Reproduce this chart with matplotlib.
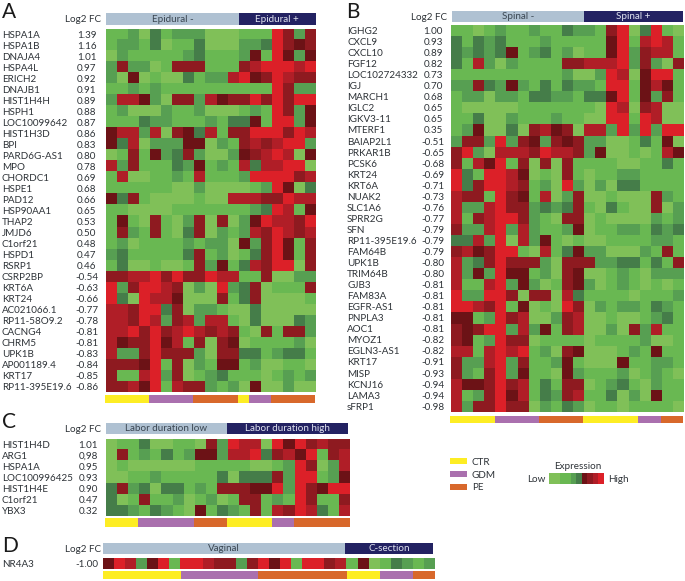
import numpy as np
import matplotlib
matplotlib.use("Agg")
import matplotlib.pyplot as plt
from matplotlib.colors import ListedColormap, BoundaryNorm

plt.rcParams['font.family'] = ['Lato', 'DejaVu Sans']

W, H = 685, 581

# Expression levels: 1-4 light to dark green (low), 5-8 dark to bright red (high)
level_colors = ['#80c058', '#69b852', '#579f52', '#457d49',
                '#6c1216', '#8e1a20', '#b01e27', '#dc2028']
group_colors = {'CTR': '#fded24', 'GDM': '#aa70ae', 'PE': '#d8682b'}
head_light = '#afc1d2'
head_dark = '#232262'
text_color = '#2e3338'

a_genes = ['HSPA1A', 'HSPA1B', 'DNAJA4', 'HSPA4L', 'ERICH2', 'DNAJB1', 'HIST1H4H', 'HSPH1',
           'LOC10099642', 'HIST1H3D', 'BPI', 'PARD6G-AS1', 'MPO', 'CHORDC1', 'HSPE1', 'PAD12',
           'HSP90AA1', 'THAP2', 'JMJD6', 'C1orf21', 'HSPD1', 'RSRP1', 'CSRP2BP', 'KRT6A', 'KRT24',
           'AC021066.1', 'RP11-58O9.2', 'CACNG4', 'CHRM5', 'UPK1B', 'AP001189.4', 'KRT17',
           'RP11-395E19.6']
a_fc = ['1.39', '1.16', '1.01', '0.97', '0.92', '0.91', '0.89', '0.88', '0.87', '0.86', '0.83',
        '0.80', '0.78', '0.69', '0.68', '0.66', '0.65', '0.53', '0.50', '0.48', '0.47', '0.46',
        '-0.54', '-0.63', '-0.66', '-0.77', '-0.78', '-0.81', '-0.81', '-0.83', '-0.84', '-0.85',
        '-0.86']
a_levels = [
    '2 2 3 1 4 2 3 3 3 1 1 1 2 2 2 8 6 3 6',
    '2 3 3 2 4 1 2 2 4 1 1 1 3 3 4 8 6 5 6',
    '1 3 2 2 2 2 2 3 4 2 2 2 3 5 2 8 5 3 5',
    '3 6 3 3 1 2 6 6 6 2 2 2 6 7 8 8 8 7 8',
    '3 1 5 1 2 1 1 4 2 3 3 7 8 5 6 8 7 6 6',
    '2 2 3 2 3 2 2 2 2 2 2 2 2 2 2 8 6 3 3',
    '3 7 7 5 3 1 6 6 3 7 5 6 6 8 6 8 6 8 8',
    '2 3 1 1 1 3 2 2 3 1 1 1 2 3 2 8 6 3 5',
    '2 2 2 4 3 3 2 2 2 3 2 4 4 5 2 8 8 3 5',
    '5 7 7 3 7 1 6 5 4 7 2 6 6 8 8 8 6 8 7',
    '5 4 7 1 3 3 3 5 5 1 3 2 6 7 6 7 8 8 3',
    '1 2 6 2 5 3 4 6 3 1 1 3 5 6 7 8 7 1 5',
    '7 3 6 2 2 2 4 3 5 2 3 2 7 4 7 7 8 8 1',
    '2 7 1 1 2 2 3 2 7 2 2 2 3 8 8 8 8 6 7',
    '2 2 2 2 2 2 1 1 3 1 1 1 1 2 3 8 5 1 4',
    '5 4 6 2 1 1 1 1 2 1 1 7 7 7 6 6 8 7 7',
    '2 2 1 1 1 1 2 2 2 2 2 2 2 3 4 8 7 2 5',
    '2 5 2 1 6 2 1 3 6 1 6 1 3 5 8 7 7 6 8',
    '2 6 3 2 6 2 1 4 6 1 3 2 3 7 6 8 7 6 7',
    '2 3 1 2 2 2 2 3 2 3 3 1 5 3 6 8 5 2 6',
    '3 4 2 2 2 2 2 4 6 2 3 1 2 4 6 8 5 2 6',
    '2 4 1 1 2 1 1 2 6 3 5 2 4 7 6 8 8 1 6',
    '6 6 7 7 8 6 8 6 6 8 7 7 2 2 6 1 1 3 3',
    '8 3 6 8 8 7 6 1 3 1 8 3 4 6 1 2 2 2 6',
    '8 4 1 8 7 7 5 1 1 1 6 2 4 6 1 1 1 1 2',
    '7 7 6 8 8 4 6 1 3 3 2 1 1 4 1 1 1 1 1',
    '7 7 6 8 7 3 6 7 3 7 7 2 1 4 1 1 1 4 3',
    '7 7 8 6 8 6 7 8 7 6 7 6 2 1 6 2 6 6 3',
    '7 5 6 6 8 5 7 2 6 1 6 5 1 2 2 2 2 3 1',
    '7 3 3 6 8 6 6 6 3 1 6 6 4 4 2 3 4 4 2',
    '6 6 6 5 8 2 6 1 3 2 5 5 2 3 1 1 2 2 1',
    '6 2 2 7 8 3 6 1 2 3 4 2 2 2 1 2 3 2 3',
    '6 6 7 5 8 2 7 6 6 3 2 3 1 5 1 1 3 1 1',
]
a_groups = [('CTR', 4), ('GDM', 4), ('PE', 4), ('CTR', 1), ('GDM', 2), ('PE', 4)]
a_head = [('Epidural -', 12), ('Epidural +', 7)]

b_genes = ['IGHG2', 'CXCL9', 'CXCL10', 'FGF12', 'LOC102724332', 'IGJ', 'MARCH1', 'IGLC2',
           'IGKV3-11', 'MTERF1', 'BAIAP2L1', 'PRKAR1B', 'PCSK6', 'KRT24', 'KRT6A', 'NUAK2',
           'SLC1A6', 'SPRR2G', 'SFN', 'RP11-395E19.6', 'FAM64B', 'UPK1B', 'TRIM64B', 'GJB3',
           'FAM83A', 'EGFR-AS1', 'PNPLA3', 'AOC1', 'MYOZ1', 'EGLN3-AS1', 'KRT17', 'MISP', 'KCNJ16',
           'LAMA3', 'sFRP1']
b_fc = ['1.00', '0.93', '0.89', '0.82', '0.73', '0.70', '0.68', '0.65', '0.65', '0.35', '-0.51',
        '-0.65', '-0.68', '-0.69', '-0.71', '-0.73', '-0.76', '-0.77', '-0.79', '-0.79', '-0.79',
        '-0.80', '-0.80', '-0.81', '-0.81', '-0.81', '-0.81', '-0.81', '-0.82', '-0.82', '-0.91',
        '-0.93', '-0.94', '-0.94', '-0.98']
b_levels = [
    '2 2 1 2 3 2 2 3 2 2 4 3 3 2 6 8 1 4 8 2 1',
    '4 2 4 3 4 2 2 2 3 2 2 2 2 2 5 8 2 7 8 7 2',
    '4 3 4 3 4 5 2 3 4 2 3 1 2 2 5 8 3 6 7 7 2',
    '4 2 7 3 1 3 2 2 2 2 6 6 7 7 7 8 3 6 3 1 6',
    '2 2 2 2 2 2 2 2 2 2 3 1 1 3 8 7 1 5 8 8 2',
    '3 3 6 4 3 5 3 2 4 2 4 3 3 2 8 8 2 5 7 5 2',
    '2 3 3 1 3 3 2 4 4 3 3 2 4 4 5 8 2 5 3 6 2',
    '2 1 1 1 1 1 2 2 2 2 2 2 2 1 8 7 1 6 7 1 1',
    '2 2 4 1 1 3 2 2 2 3 2 2 1 1 8 8 2 8 7 1 1',
    '2 3 5 1 1 4 1 6 7 5 6 1 7 7 3 8 3 8 3 8 8',
    '3 6 6 3 8 3 6 5 3 6 5 6 3 3 1 1 2 4 2 5 1',
    '6 8 3 1 7 7 7 6 8 7 7 6 3 5 1 1 2 1 2 7 5',
    '6 2 7 5 8 2 6 1 6 1 6 2 2 2 2 1 1 2 2 4 2',
    '8 4 2 8 8 7 5 1 2 1 6 2 1 2 2 3 3 2 2 2 2',
    '8 4 6 8 8 7 6 2 3 1 8 3 1 3 1 4 4 2 2 2 2',
    '7 6 6 2 8 6 5 2 7 1 3 6 1 1 2 1 1 1 6 3 2',
    '7 3 3 7 8 6 6 3 4 3 4 6 2 1 4 2 1 1 6 1 3',
    '7 2 6 7 8 8 6 3 2 1 6 6 1 2 1 1 1 1 3 2 3',
    '6 3 3 7 8 3 7 3 2 2 3 5 1 2 2 3 3 2 4 3 4',
    '4 4 7 3 8 1 7 3 5 2 1 2 1 1 2 2 2 2 3 3 2',
    '6 7 5 6 8 8 2 1 7 2 4 5 3 3 1 1 1 3 2 6 2',
    '7 3 4 6 8 6 6 6 3 1 6 6 6 3 3 4 4 2 4 2 6',
    '7 3 5 3 8 5 5 2 3 1 6 5 1 1 2 3 2 1 3 3 3',
    '7 2 2 7 8 3 5 3 1 2 6 5 3 1 2 3 2 1 2 1 2',
    '8 3 3 8 8 6 1 6 6 1 7 4 2 2 2 2 1 2 2 2 3',
    '8 8 7 6 8 2 5 1 2 1 8 6 1 3 2 3 3 2 4 3 2',
    '5 5 2 3 8 6 7 1 1 3 6 7 1 1 2 1 1 2 3 4 2',
    '6 5 6 8 8 3 7 3 5 2 6 7 1 1 3 1 6 3 7 2 2',
    '6 5 2 3 8 6 6 1 2 2 2 2 1 2 2 2 2 3 1 1 2',
    '7 7 2 7 8 7 8 2 3 1 6 5 1 1 1 2 3 2 5 2 2',
    '6 3 3 7 8 3 6 2 2 3 5 2 1 1 1 5 2 2 3 3 2',
    '6 3 2 6 8 3 5 2 2 1 5 3 2 2 2 3 1 2 3 2 1',
    '7 5 5 6 8 6 7 2 4 2 6 6 1 2 3 4 2 1 3 2 2',
    '7 2 3 6 8 5 7 2 4 3 6 7 2 2 4 1 3 1 5 2 2',
    '7 3 6 6 8 6 6 1 3 2 4 3 1 2 2 1 2 2 2 2 1',
]
b_groups = [('CTR', 4), ('GDM', 4), ('PE', 4), ('CTR', 5), ('GDM', 2), ('PE', 2)]
b_head = [('Spinal -', 12), ('Spinal +', 9)]

c_genes = ['HIST1H4D', 'ARG1', 'HSPA1A', 'LOC100996425', 'HIST1H4E', 'C1orf21', 'YBX3']
c_fc = ['1.01', '0,98', '0.95', '0.93', '0.90', '0.47', '0.32']
c_levels = [
    '1 2 2 4 1 1 2 2 1 6 3 8 7 7 1 8 5 8 6 7 6 6',
    '1 6 2 3 2 4 2 3 5 5 3 7 7 8 4 6 7 5 8 2 6 7',
    '1 2 1 1 1 1 1 1 2 2 2 2 2 1 1 2 3 8 6 1 3 7',
    '1 1 2 2 3 2 2 2 2 2 4 1 4 4 4 6 3 8 8 2 3 5',
    '4 6 3 4 1 4 4 2 3 2 6 6 6 5 5 8 3 8 6 5 8 8',
    '4 1 2 6 2 2 3 1 2 3 1 2 6 6 2 3 2 8 6 2 2 6',
    '4 4 3 2 4 3 2 1 5 2 4 3 2 6 2 7 6 8 7 4 2 7',
]
c_groups = [('CTR', 3), ('GDM', 5), ('PE', 3), ('CTR', 4), ('GDM', 2), ('PE', 5)]
c_head = [('Labor duration low', 11), ('Labor duration high', 11)]

d_genes = ['NR4A3']
d_fc = ['-1.00']
d_levels = ['5 8 7 3 5 8 2 8 8 7 6 6 3 6 8 5 8 2 8 8 6 7 2 5 1 2 4 3 2 3']
d_groups = [('CTR', 7), ('GDM', 7), ('PE', 8), ('CTR', 3), ('GDM', 3), ('PE', 2)]
d_head = [('Vaginal', 22), ('C-section', 8)]

legend_names = ['CTR', 'GDM', 'PE']
legend_scale = [1, 1, 2, 2, 3, 4, 5, 6, 7, 8]

cmap = ListedColormap(level_colors)
norm = BoundaryNorm(np.arange(0.5, 9.5), cmap.N)

FS = 7.1


def px_axes(fig, x0, y0, x1, y1):
    # Axes from pixel box, y measured from the top of the image
    ax = fig.add_axes([x0 / W, 1 - y1 / H, (x1 - x0) / W, (y1 - y0) / H])
    ax.axis('off')
    return ax


def to_matrix(levels):
    return np.array([[int(v) for v in row.split()] for row in levels])


def draw_bar(fig, box, parts, colors, labels=None):
    # Stacked horizontal strip, parts given in number of columns
    ax = px_axes(fig, *box)
    total = sum(parts)
    left = 0
    for i, p in enumerate(parts):
        ax.barh(0, p, left=left, height=1, color=colors[i], linewidth=0)
        if labels:
            tc = '#3a4652' if i == 0 else '#dfe3f0'
            ax.text(left + p / 2, -0.02, labels[i], ha='center', va='center', color=tc, fontsize=FS)
        left += p
    ax.set_xlim(0, total)
    ax.set_ylim(-0.5, 0.5)


def panel(fig, letter, letter_xy, genes, fc, levels, groups, head, heat_box, head_box, bar_box, fc_x, fc_head_x):
    m = to_matrix(levels)
    ax = px_axes(fig, *heat_box)
    ax.imshow(m, cmap=cmap, norm=norm, aspect='auto', interpolation='nearest')

    x0, y0, x1, y1 = heat_box
    rh = (y1 - y0) / len(genes)
    for i in range(len(genes)):
        yy = y0 + rh * (i + 0.5)
        fig.text(label_x[letter] / W, 1 - yy / H, genes[i], ha='left', va='center_baseline',
                 fontsize=FS, color=text_color)
        fig.text(fc_x / W, 1 - yy / H, fc[i], ha='center', va='center_baseline',
                 fontsize=FS, color=text_color)

    head_y = (head_box[1] + head_box[3]) / 2
    fig.text(fc_head_x / W, 1 - head_y / H, 'Log2 FC', ha='center', va='center_baseline',
             fontsize=FS, color=text_color)
    fig.text(letter_xy[0] / W, 1 - letter_xy[1] / H, letter, ha='left', va='baseline',
             fontsize=15, color='#1a1a1a')

    draw_bar(fig, head_box, [h[1] for h in head], [head_light, head_dark], [h[0] for h in head])
    draw_bar(fig, bar_box, [g[1] for g in groups], [group_colors[g[0]] for g in groups])


label_x = {'A': 2, 'B': 347, 'C': 2, 'D': 2}

fig = plt.figure(figsize=(W / 100, H / 100), dpi=100)

panel(fig, 'A', (2, 18), a_genes, a_fc, a_levels, a_groups, a_head,
      (105.5, 29, 315, 392.5), (106, 12.7, 316, 25), (104.7, 395, 315, 403.3), 86.7, 83)
panel(fig, 'B', (346, 18), b_genes, b_fc, b_levels, b_groups, b_head,
      (450.5, 25, 683, 411.7), (451.7, 10.7, 682.7, 22.3), (450.3, 415.7, 682.7, 423.3), 433, 429)
panel(fig, 'C', (2, 428), c_genes, c_fc, c_levels, c_groups, c_head,
      (105.7, 438.5, 349, 515.7), (105.7, 423.3, 348.3, 434), (104.7, 518.3, 349.7, 526.7), 88.3, 83)
panel(fig, 'D', (2, 552), d_genes, d_fc, d_levels, d_groups, d_head,
      (103.3, 558, 435, 568.8), (103.3, 543.3, 433.3, 554), (103.3, 570.7, 435.5, 579.3), 86.7, 83)

# Group legend
leg_y = [461.3, 474, 486.5]
for i, name in enumerate(legend_names):
    ax = px_axes(fig, 450, leg_y[i] - 3, 466.7, leg_y[i] + 3)
    ax.barh(0, 1, left=0, height=1, color=group_colors[name], linewidth=0)
    ax.set_xlim(0, 1)
    ax.set_ylim(-0.5, 0.5)
    fig.text(471.7 / W, 1 - leg_y[i] / H, name, ha='left', va='center_baseline',
             fontsize=FS, color=text_color)

# Expression scale
ax = px_axes(fig, 549.3, 473.3, 604.3, 484.3)
ax.imshow(np.array([legend_scale]), cmap=cmap, norm=norm, aspect='auto', interpolation='nearest')
fig.text(577.3 / W, 1 - 465.7 / H, 'Expression', ha='center', va='center_baseline', fontsize=FS, color=text_color)
fig.text(545 / W, 1 - 479 / H, 'Low', ha='right', va='center_baseline', fontsize=FS, color=text_color)
fig.text(608.3 / W, 1 - 479 / H, 'High', ha='left', va='center_baseline', fontsize=FS, color=text_color)

fig.savefig('out.png', dpi=100)
